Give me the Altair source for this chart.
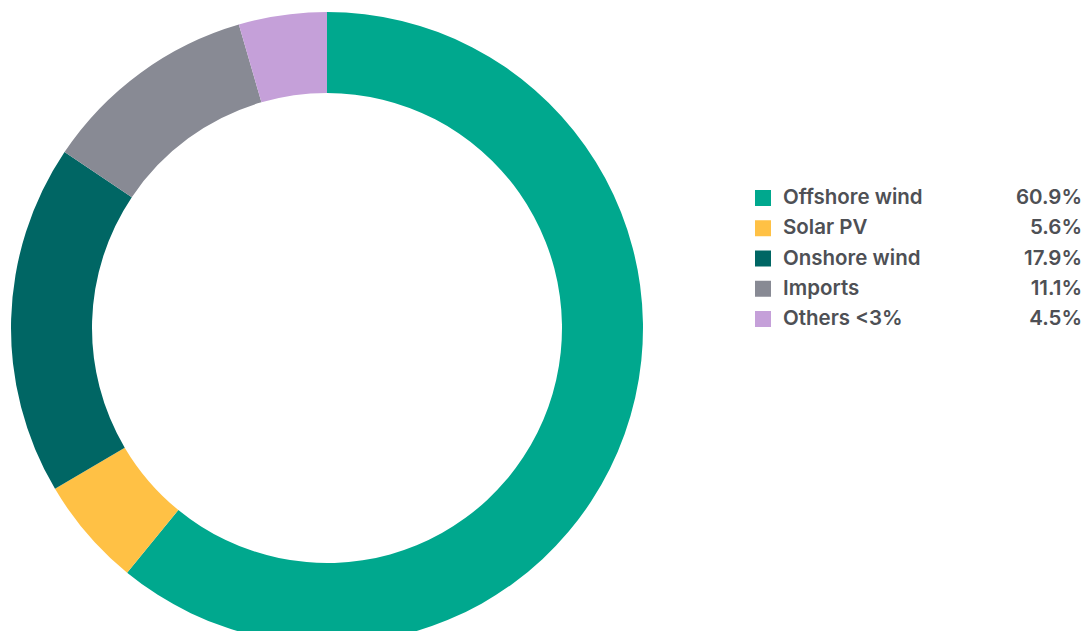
import altair as alt
import pandas as pd

sources = ["Offshore wind", "Solar PV", "Onshore wind", "Imports", "Others <3%"]
shares = [60.9, 5.6, 17.9, 11.1, 4.5]
share_labels = ["60.9%", "5.6%", "17.9%", "11.1%", "4.5%"]
colors = ["#00A88E", "#FFC145", "#006664", "#888A94", "#C5A0D9"]

df = pd.DataFrame({
    "source": sources,
    "share": shares,
    "label": share_labels,
    "order": list(range(len(sources))),
})

color_scale = alt.Scale(domain=sources, range=colors)
row_scale = alt.Scale(domain=sources, range=[190, 311], type="point", padding=0)

base = alt.Chart(df)

donut = base.mark_arc(outerRadius=316, innerRadius=235, strokeWidth=0).encode(
    theta=alt.Theta("share:Q", stack=True),
    order=alt.Order("order:Q"),
    color=alt.Color("source:N", scale=color_scale, legend=None),
    x=alt.value(319),
    y=alt.value(320),
)

swatches = base.mark_square(size=256, opacity=1, filled=True).encode(
    x=alt.value(755),
    y=alt.Y("source:N", scale=row_scale, axis=None),
    color=alt.Color("source:N", scale=color_scale, legend=None),
)

text_style = dict(font="Inter", fontSize=20.5, fontWeight=600, color="#4E5055", baseline="middle")

names = base.mark_text(align="left", **text_style).encode(
    x=alt.value(775),
    y=alt.Y("source:N", scale=row_scale, axis=None),
    text="source:N",
)

values = base.mark_text(align="right", **text_style).encode(
    x=alt.value(1074),
    y=alt.Y("source:N", scale=row_scale, axis=None),
    text="label:N",
)

chart = alt.layer(donut, swatches, names, values).properties(
    width=1073,
    height=623,
    autosize=alt.AutoSizeParams(type="none"),
    padding=0,
    background="white",
).configure_view(strokeWidth=0, stroke=None)

chart.save("out.html", embed_options={"renderer": "svg", "actions": False})
